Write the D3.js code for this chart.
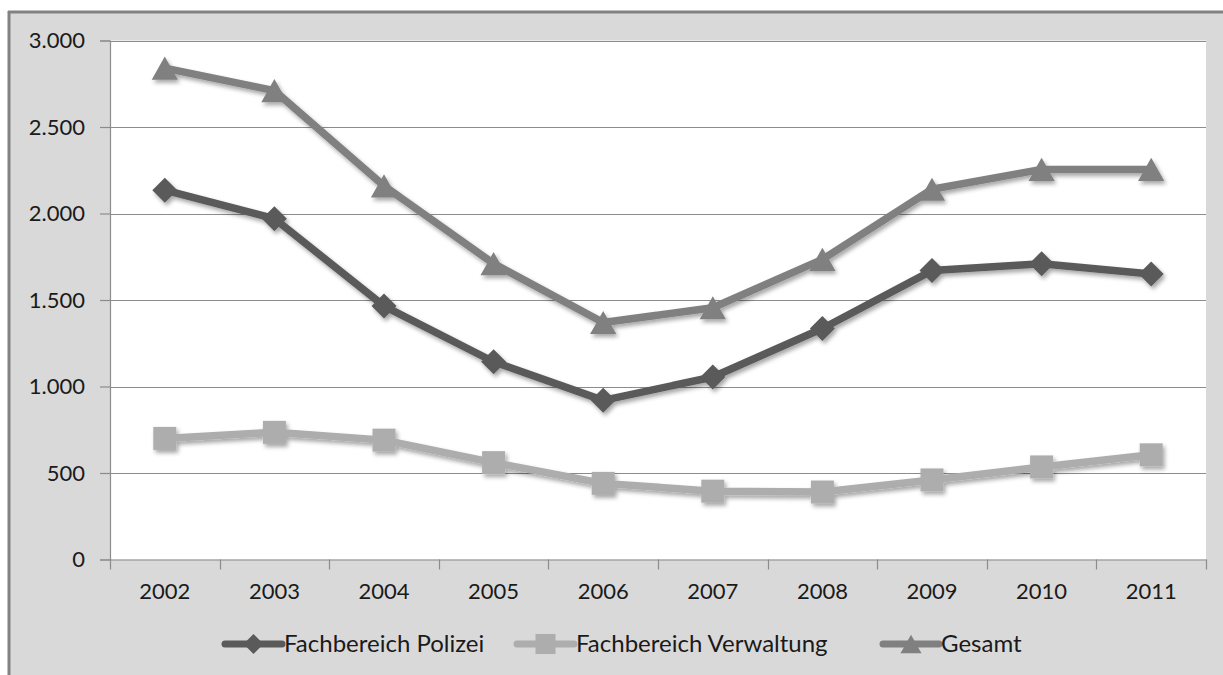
<!DOCTYPE html>
<html>
<head>
<meta charset="utf-8">
<script src="https://cdn.jsdelivr.net/npm/d3@7"></script>
<style>
  html, body { margin: 0; padding: 0; background: #ffffff; }
  svg { display: block; }
  text { font-family: Lato, "Open Sans", sans-serif; fill: #1a1a1a; }
</style>
</head>
<body>
<svg id="chart" width="1223" height="675"></svg>
<script>
const years = ['2002','2003','2004','2005','2006','2007','2008','2009','2010','2011'];
const polizei = [2135, 1970, 1465, 1143, 920, 1055, 1335, 1670, 1710, 1650];
const verwaltung = [700, 735, 690, 560, 440, 395, 390, 460, 535, 605];
const gesamt = [2840, 2710, 2160, 1710, 1370, 1455, 1735, 2140, 2255, 2255];
const yTicks = [0, 500, 1000, 1500, 2000, 2500, 3000];
const seriesNames = ['Fachbereich Polizei', 'Fachbereich Verwaltung', 'Gesamt'];

const series = [
  { name: seriesNames[0], values: polizei, color: '#5a5a5a', marker: 'diamond' },
  { name: seriesNames[1], values: verwaltung, color: '#adadad', marker: 'square' },
  { name: seriesNames[2], values: gesamt, color: '#808080', marker: 'triangle' }
];

const svg = d3.select('#chart');
const W = 1223, H = 675;
const plot = { left: 110, right: 1206, top: 40.5, bottom: 559.5 };

const de = d3.formatLocale({ decimal: ',', thousands: '.', grouping: [3], currency: ['', ' €'] });
const fmt = de.format(',d');

// shadow filter
const defs = svg.append('defs');
const f = defs.append('filter').attr('id', 'shadow').attr('x', '-20%').attr('y', '-20%').attr('width', '140%').attr('height', '140%');
f.append('feDropShadow').attr('dx', 2).attr('dy', 3).attr('stdDeviation', 2)
  .attr('flood-color', '#000').attr('flood-opacity', 0.35);

// chart area background
svg.append('rect').attr('x', 9).attr('y', 12).attr('width', W - 9).attr('height', H - 12).attr('fill', '#d9d9d9');
svg.append('line').attr('x1', 8).attr('x2', W).attr('y1', 12).attr('y2', 12).attr('stroke', '#828282').attr('stroke-width', 3);
svg.append('line').attr('x1', 9).attr('x2', 9).attr('y1', 11).attr('y2', H).attr('stroke', '#828282').attr('stroke-width', 3);

// plot area
svg.append('rect').attr('x', plot.left).attr('y', plot.top).attr('width', plot.right - plot.left)
  .attr('height', plot.bottom - plot.top).attr('fill', '#ffffff');

const x = d3.scaleBand().domain(years).range([plot.left, plot.right]);
const y = d3.scaleLinear().domain([0, 3000]).range([plot.bottom, plot.top]);

// gridlines
svg.append('g').selectAll('line').data(yTicks.filter(d => d > 0)).join('line')
  .attr('x1', plot.left).attr('x2', plot.right)
  .attr('y1', d => Math.round(y(d)) + 0.5).attr('y2', d => Math.round(y(d)) + 0.5)
  .attr('stroke', '#8c8c8c').attr('stroke-width', 1.2);

// y axis
const yAxis = svg.append('g').attr('transform', `translate(${plot.left},0)`)
  .call(d3.axisLeft(y).tickValues(yTicks).tickFormat(fmt).tickSize(10).tickPadding(15));
yAxis.select('.domain').attr('stroke', '#8c8c8c').attr('stroke-width', 1.2);
yAxis.selectAll('.tick line').attr('stroke', '#8c8c8c').attr('stroke-width', 1.2);
yAxis.selectAll('.tick text').attr('font-size', 22).attr('fill', '#1a1a1a').style('font-family', 'Lato, sans-serif');

// x axis
const xAxis = svg.append('g').attr('transform', `translate(0,${plot.bottom})`)
  .call(d3.axisBottom(x).tickSize(0).tickPadding(24));
xAxis.select('.domain').attr('stroke', '#8c8c8c').attr('stroke-width', 1.2);
xAxis.selectAll('.tick text').attr('font-size', 22).attr('fill', '#1a1a1a').style('font-family', 'Lato, sans-serif');
const bounds = years.map(d => x(d)).concat([x(years[years.length - 1]) + x.bandwidth()]);
svg.append('g').selectAll('line').data(bounds).join('line')
  .attr('x1', d => Math.round(d) + 0.5).attr('x2', d => Math.round(d) + 0.5)
  .attr('y1', plot.bottom).attr('y2', plot.bottom + 10)
  .attr('stroke', '#8c8c8c').attr('stroke-width', 1.2);

function markerPath(type, s) {
  if (type === 'diamond') return `M0,${-s}L${s},0L0,${s}L${-s},0Z`;
  if (type === 'square') return `M${-s},${-s}H${s}V${s}H${-s}Z`;
  const h = s * 1.85, w = s * 1.05;
  return `M0,${-h / 2}L${w},${h / 2}L${-w},${h / 2}Z`;
}
const markerSize = { diamond: 12.5, square: 11.5, triangle: 12.5 };

const line = d3.line().x((d, i) => x(years[i]) + x.bandwidth() / 2).y(d => y(d));

series.forEach(s => {
  const g = svg.append('g').attr('filter', 'url(#shadow)');
  g.append('path').datum(s.values).attr('d', line).attr('fill', 'none')
    .attr('stroke', s.color).attr('stroke-width', 7.5).attr('stroke-linejoin', 'round');
  g.selectAll('path.m').data(s.values).join('path').attr('class', 'm')
    .attr('transform', (d, i) => `translate(${x(years[i]) + x.bandwidth() / 2},${y(d)})`)
    .attr('d', markerPath(s.marker, markerSize[s.marker]))
    .attr('fill', s.color);
});

// legend
const legendY = 644;
const legendItems = [
  { x0: 225, tx: 284 },
  { x0: 517, tx: 576 },
  { x0: 883, tx: 941 }
];
series.forEach((s, i) => {
  const li = legendItems[i];
  const g = svg.append('g');
  g.append('line').attr('x1', li.x0).attr('x2', li.tx - 2).attr('y1', legendY).attr('y2', legendY)
    .attr('stroke', s.color).attr('stroke-width', 7).attr('stroke-linecap', 'round');
  g.append('path').attr('transform', `translate(${(li.x0 + li.tx - 2) / 2},${legendY})`)
    .attr('d', markerPath(s.marker, 10)).attr('fill', s.color);
  g.append('text').attr('x', li.tx).attr('y', legendY).attr('dy', '0.35em')
    .attr('font-size', 24).text(s.name);
});
</script>
</body>
</html>
